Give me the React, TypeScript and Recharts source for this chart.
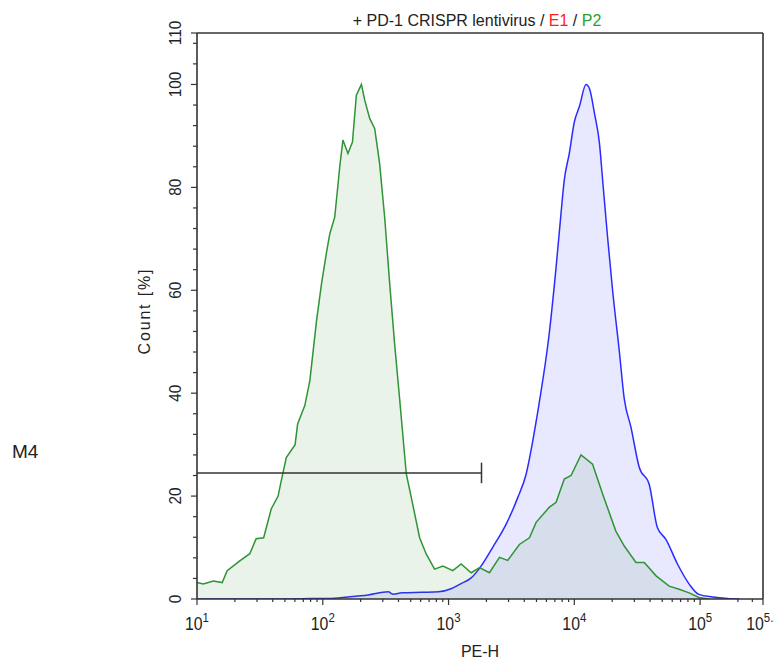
import React from 'react';
import { ComposedChart, Area, XAxis, YAxis, ReferenceLine } from 'recharts';

// ---- data (x in log10 PE-H units, y in Count %) ----
const p2LogPE = [1.0, 1.05, 1.13, 1.2, 1.24, 1.34, 1.42, 1.47, 1.53, 1.59, 1.645, 1.67, 1.71, 1.78, 1.8, 1.857, 1.897, 1.95, 1.99, 2.03, 2.056, 2.095, 2.135, 2.16, 2.2, 2.236, 2.267, 2.307, 2.333, 2.373, 2.413, 2.452, 2.492, 2.532, 2.571, 2.611, 2.664, 2.704, 2.77, 2.823, 2.889, 2.955, 3.034, 3.1, 3.18, 3.246, 3.325, 3.405, 3.47, 3.563, 3.643, 3.696, 3.8, 3.855, 3.92, 3.974, 4.053, 4.145, 4.225, 4.33, 4.397, 4.49, 4.556, 4.65, 4.754, 4.833, 4.913, 4.99, 5.07];
const p2Count = [3.2, 2.9, 3.5, 3.2, 5.5, 7.4, 8.8, 11.7, 11.9, 17.5, 20, 23, 27.5, 30, 34, 37.6, 42.4, 54, 61.3, 67.4, 71, 74.2, 84, 89.2, 86.6, 88.8, 97.9, 100, 97, 93.4, 91.4, 84.6, 74.2, 61.3, 49.6, 38.9, 24.3, 19.7, 11.9, 8.7, 5.8, 6.4, 5.5, 6.8, 5.1, 6.1, 5.1, 8.1, 7.5, 10.6, 11.9, 14.9, 17.8, 18.8, 23.3, 24, 28, 26.2, 20.4, 13.2, 10.3, 7.1, 7.1, 4.5, 2.5, 1.9, 1.2, 0.3, 0];

const e1LogPE = [1.0, 1.7, 1.9, 2.05, 2.2, 2.36, 2.52, 2.56, 2.63, 2.79, 2.92, 3.02, 3.1, 3.18, 3.25, 3.35, 3.457, 3.55, 3.617, 3.67, 3.72, 3.8, 3.855, 3.894, 3.92, 3.96, 4.0, 4.04, 4.093, 4.12, 4.16, 4.2, 4.225, 4.264, 4.304, 4.357, 4.397, 4.45, 4.516, 4.595, 4.66, 4.728, 4.82, 4.913, 4.99, 5.1, 5.217, 5.31];
const e1Count = [0, 0, 0.1, 0.1, 0.4, 0.8, 1.4, 0.9, 1.2, 1.3, 1.4, 2.0, 3.0, 4.1, 6.1, 10, 14.5, 19.7, 24.3, 30.8, 38, 51.5, 64.5, 74.9, 81.4, 86.6, 92.7, 95.7, 100, 99.2, 94.4, 88.5, 81.4, 70.4, 60, 48.3, 38.9, 33.4, 25.6, 22.3, 13.9, 11.6, 6.8, 2.9, 0.9, 0.4, 0.1, 0];

// marker M4 (log10 PE-H range, Count level)
const m4Range = [1.0, 3.262];
const m4Level = 24.5;

// axis ticks
const xMajorTicks = [1, 2, 3, 4, 5, 5.5];
const xMajorLabels = ['1', '2', '3', '4', '5', '5.5'];
const xMinorMultipliers = [2, 3, 4, 5, 6, 7, 8, 9];
const xDecades = [1, 2, 3, 4];
const xExtraMinor = [5.301, 5.415];
const yTicks = [0, 4, 8, 12, 16, 20, 24, 28, 32, 36, 40, 44, 48, 52, 56, 60, 64, 68, 72, 76, 80, 84, 88, 92, 96, 100, 104, 108, 110];
const yLabelTicks = [0, 20, 40, 60, 80, 100, 110];

const p2Data = p2LogPE.map((x, i) => ({ x, y: p2Count[i] }));
const e1Data = e1LogPE.map((x, i) => ({ x, y: e1Count[i] }));
const xMinorTicks = xDecades.flatMap((d) => xMinorMultipliers.map((k) => d + Math.log10(k)));
const xTicks = [...xMajorTicks, ...xMinorTicks, ...xExtraMinor].sort((a, b) => a - b);

const FONT = '"Liberation Sans", Arial, sans-serif';
const INK = '#222';
const AXIS = '#333';

const W = 774;
const H = 653;

const XTick = (props: any) => {
  const { x, y, payload } = props;
  const v = payload.value;
  const mi = xMajorTicks.findIndex((m) => Math.abs(m - v) < 1e-6);
  const major = mi >= 0;
  return (
    <g>
      <line x1={x} y1={y} x2={x} y2={y + (major ? 6 : 3)} stroke={AXIS} strokeWidth={1.2} />
      {major && (
        <text transform={`translate(${x},${y + 31}) scale(0.88,1)`} textAnchor="middle" fill={INK} fontFamily={FONT}>
          <tspan fontSize={18}>10</tspan>
          <tspan fontSize={13} dy={-8}>{xMajorLabels[mi]}</tspan>
        </text>
      )}
    </g>
  );
};

const YTick = (props: any) => {
  const { x, y, payload } = props;
  const v = payload.value;
  const major = yLabelTicks.includes(v);
  return (
    <g>
      <line x1={x - (major ? 6 : 4)} y1={y} x2={x} y2={y} stroke={AXIS} strokeWidth={1.2} />
      {major && (
        <text transform={`translate(${x - 16},${y}) rotate(-90) scale(0.9,1)`} textAnchor="middle" fill={INK} fontFamily={FONT} fontSize={17}>
          {v}
        </text>
      )}
    </g>
  );
};

export default function App() {
  return (
    <div style={{ position: 'relative', width: W, height: H }}>
      <style>{'body { margin: 8px 8px 0 8px; } #root { width: 774px; height: 653px; } .recharts-surface, .recharts-wrapper { overflow: visible !important; }'}</style>
      <ComposedChart width={W} height={H} margin={{ top: 25, right: 19, bottom: 0, left: 0 }}>
        <XAxis
          dataKey="x"
          type="number"
          domain={[1, 5.5]}
          ticks={xTicks}
          interval={0}
          allowDataOverflow
          height={62}
          tickSize={0}
          tickMargin={0}
          tickLine={false}
          tick={<XTick />}
          axisLine={{ stroke: AXIS, strokeWidth: 1.6 }}
        />
        <YAxis
          type="number"
          domain={[0, 110]}
          ticks={yTicks}
          interval={0}
          allowDataOverflow
          width={189}
          tickSize={0}
          tickMargin={0}
          tickLine={false}
          tick={<YTick />}
          axisLine={{ stroke: AXIS, strokeWidth: 1.6 }}
        />
        <Area
          data={e1Data}
          dataKey="y"
          type="monotone"
          stroke="#2b2bff"
          strokeWidth={1.5}
          fill="#0000ff"
          fillOpacity={0.09}
          isAnimationActive={false}
          dot={false}
          activeDot={false}
        />
        <Area
          data={p2Data}
          dataKey="y"
          type="linear"
          stroke="#2f9434"
          strokeWidth={1.5}
          fill="#2e8b2e"
          fillOpacity={0.1}
          isAnimationActive={false}
          dot={false}
          activeDot={false}
        />
        <ReferenceLine y={110} stroke={AXIS} strokeWidth={1.6} />
        <ReferenceLine x={5.5} stroke={AXIS} strokeWidth={1.6} />
        <ReferenceLine
          segment={[{ x: m4Range[0], y: m4Level }, { x: m4Range[1], y: m4Level }]}
          stroke="#333"
          strokeWidth={1.5}
        />
        <ReferenceLine
          segment={[{ x: m4Range[1], y: m4Level - 2 }, { x: m4Range[1], y: m4Level + 2 }]}
          stroke="#333"
          strokeWidth={1.5}
        />
      </ComposedChart>
      <svg
        width={W}
        height={H}
        style={{ position: 'absolute', left: 0, top: 0, pointerEvents: 'none', overflow: 'visible' }}
      >
        <text x={469} y={18} textAnchor="middle" fontFamily={FONT} fontSize={16} fill={INK}>
          <tspan>+ PD-1 CRISPR lentivirus / </tspan>
          <tspan fill="#ff1a1a">E1</tspan>
          <tspan> / </tspan>
          <tspan fill="#2aa02a">P2</tspan>
        </text>
        <text x={4} y={450} fontFamily={FONT} fontSize={19} fill={INK}>M4</text>
        <text x={472} y={649} textAnchor="middle" fontFamily={FONT} fontSize={16} fill={INK}>PE-H</text>
        <text
          transform="translate(142,304) rotate(-90)"
          textAnchor="middle"
          fontFamily={FONT}
          fontSize={16}
          fill={INK}
          textLength={85}
          lengthAdjust="spacing"
        >
          Count [%]
        </text>
      </svg>
    </div>
  );
}
